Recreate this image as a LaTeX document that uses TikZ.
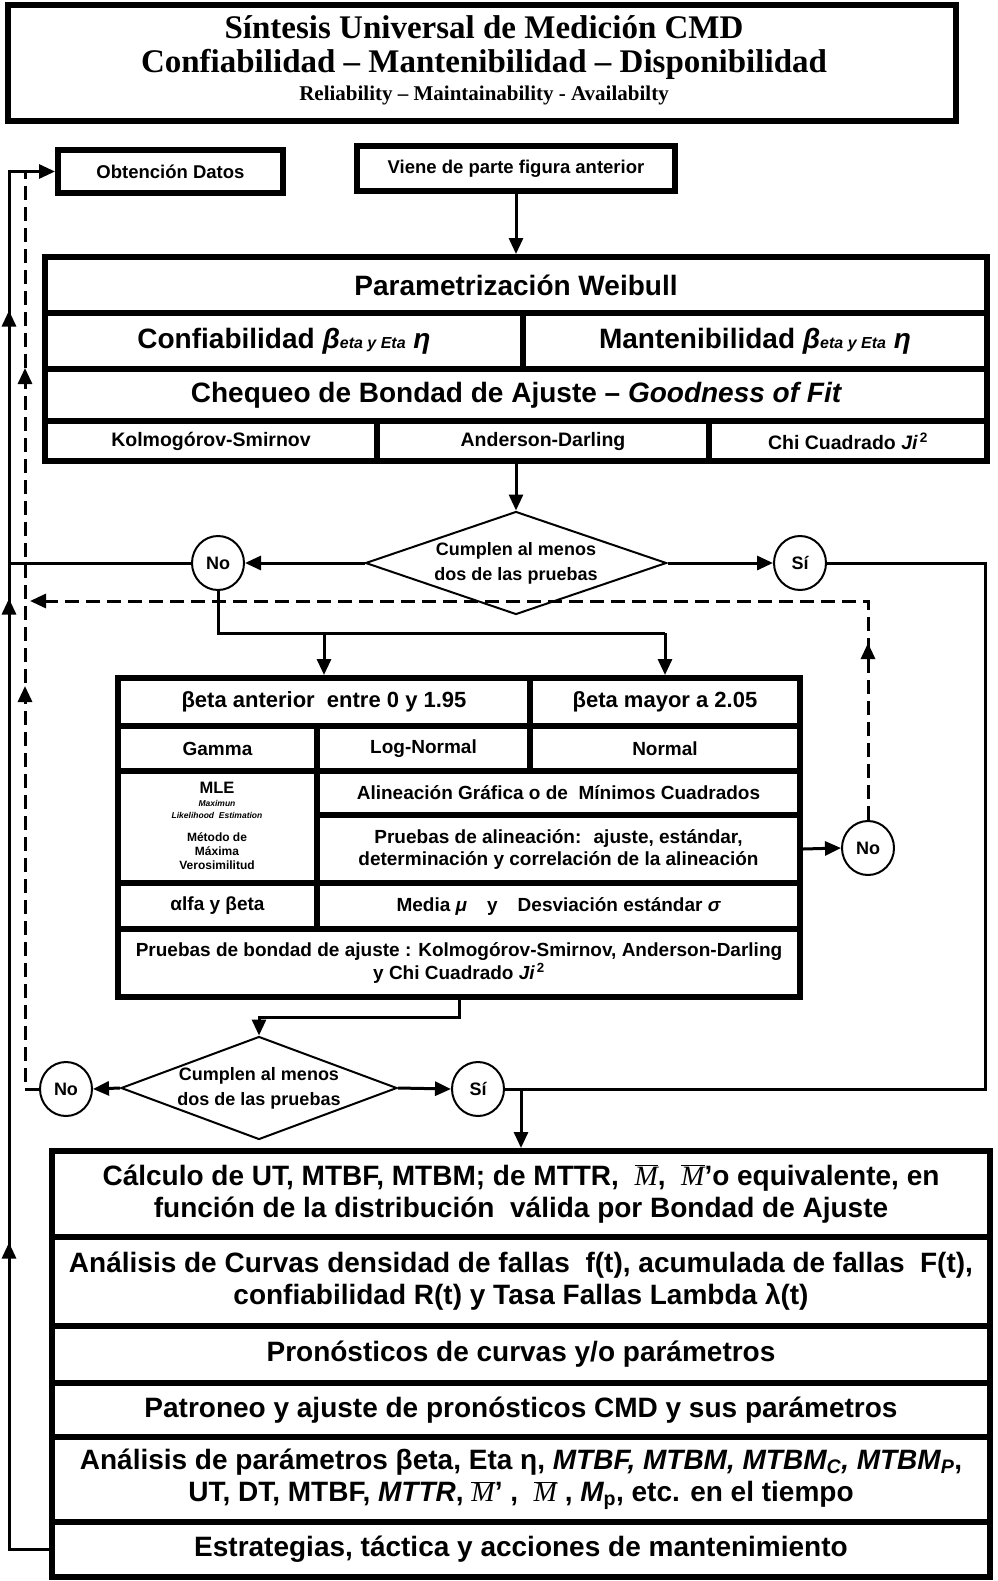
\documentclass[tikz,border=0pt]{standalone}
\usepackage{fix-cm}
\usepackage{fontspec}
\setmainfont{Liberation Sans}
\newfontfamily\titlefont{Liberation Serif}
\usetikzlibrary{arrows.meta,shapes.geometric,decorations.markings}

\begin{document}
\begin{tikzpicture}[x=1pt,y=-1pt,
  >={Triangle[length=16pt,width=14pt]},
  cell/.style={draw,line width=6pt,inner sep=0pt,align=center},
  decision/.style={diamond,draw,line width=2pt,inner sep=0pt,align=center,font=\myfontdia},
  answer/.style={ellipse,draw,line width=2pt,inner sep=0pt,minimum width=52pt,minimum height=54pt,font=\myfontcirc},
  line/.style={line width=3pt},
  flow/.style={line width=3pt,->},
  back/.style={line width=3pt,dash pattern=on 14pt off 7pt},
  midtips/.style={postaction={decorate,decoration={markings,#1}}}]
\newcommand{\myfonthead}{\fontsize{28}{32}\selectfont\bfseries}
\newcommand{\myfonttest}{\fontsize{19.5}{22}\selectfont\bfseries}
\newcommand{\myfontbeta}{\fontsize{22}{24}\selectfont\bfseries}
\newcommand{\myfontcell}{\fontsize{19}{22}\selectfont\bfseries}
\newcommand{\myfontbox}{\fontsize{18.5}{20}\selectfont\bfseries}
\newcommand{\myfontdia}{\fontsize{18}{25}\selectfont\bfseries}
\newcommand{\myfontcirc}{\fontsize{18}{20}\selectfont\bfseries}
\newcommand{\mbar}{$\overline{\hbox{\titlefont\mdseries\itshape M}}$}
\useasboundingbox (0,0) rectangle (997,1581);
%Title box
\node[cell,minimum width=948pt,minimum height=116pt] (title) at (482,63) {};
\node (titleA) at (484,27) {\titlefont\fontsize{33}{36}\selectfont\bfseries Síntesis Universal de Medición CMD};
\node (titleB) at (484,64) {\titlefont\fontsize{33}{36}\selectfont\bfseries Confiabilidad – Mantenibilidad – Disponibilidad};
\node (titleC) at (484,95) {\titlefont\fontsize{21}{24}\selectfont\bfseries Reliability – Maintainability - Availabilty};
%Start boxes
\node[cell,minimum width=225pt,minimum height=43pt,font=\myfontbox] (datos) at (170.5,171.5) {Obtención Datos};
\node[cell,minimum width=318pt,minimum height=45pt,font=\myfontbox] (viene) at (516,168.5) {Viene de parte figura anterior};
%Weibull block
\node[cell,minimum width=942pt,minimum height=56pt,font=\myfonthead] (param) at (516,285) {Parametrización Weibull};
\node[cell,minimum width=478pt,minimum height=56pt,font=\myfonthead] (conf) at (284,341) {Confiabilidad {\itshape β}{\fontsize{16}{16}\selectfont\itshape eta y Eta} {\itshape η}};
\node[cell,minimum width=464pt,minimum height=56pt,font=\myfonthead] (mant) at (755,341) {Mantenibilidad {\itshape β}{\fontsize{16}{16}\selectfont\itshape eta y Eta} {\itshape η}};
\node[cell,minimum width=942pt,minimum height=52pt,font=\myfonthead] (cheq) at (516,395) {Chequeo de Bondad de Ajuste – {\itshape Goodness of Fit}};
\node[cell,minimum width=332pt,minimum height=40pt,font=\myfonttest] (ks) at (211,441) {Kolmogórov-Smirnov};
\node[cell,minimum width=332pt,minimum height=40pt,font=\myfonttest] (ad) at (543,441) {Anderson-Darling};
\node[cell,minimum width=278pt,minimum height=40pt,font=\myfonttest] (chi) at (848,441) {Chi Cuadrado {\itshape Ji}\textsuperscript{\,2}};
%First decision
\node[decision,aspect=2.9,minimum width=301pt,minimum height=103pt] (test1) at (516,563) {Cumplen al menos\\dos de las pruebas};
\node[answer] (no1) at (218,563) {No};
\node[answer] (si1) at (800,563) {Sí};
%Distribution table
\node[cell,minimum width=412pt,minimum height=48pt,font=\myfontbeta] (b1) at (324,702) {βeta anterior \ entre 0 y 1.95};
\node[cell,minimum width=270pt,minimum height=48pt,font=\myfontbeta] (b2) at (665,702) {βeta mayor a 2.05};
\node[cell,minimum width=199pt,minimum height=45pt,font=\myfontcell] (gam) at (217.5,748.5) {Gamma};
\node[cell,minimum width=213pt,minimum height=45pt,font=\myfontcell] (logn) at (423.5,748.5) {Log-Normal};
\node[cell,minimum width=270pt,minimum height=45pt,font=\myfontcell] (norm) at (665,748.5) {Normal};
\node[cell,minimum width=199pt,minimum height=112pt] (mle) at (217.5,827) {};
\node (mleA) at (217,788) {\fontsize{16.5}{18}\selectfont\bfseries MLE};
\node (mleB) at (217,803) {\fontsize{8.5}{9}\selectfont\bfseries\itshape Maximun};
\node (mleC) at (217,815) {\fontsize{8.5}{9}\selectfont\bfseries\itshape Likelihood \ Estimation};
\node (mleD) at (217,837) {\fontsize{12}{13}\selectfont\bfseries Método de};
\node (mleE) at (217,851) {\fontsize{12}{13}\selectfont\bfseries Máxima};
\node (mleF) at (217,865) {\fontsize{12}{13}\selectfont\bfseries Verosimilitud};
\node[cell,minimum width=483pt,minimum height=44pt,font=\myfontcell] (alin) at (558.5,793) {Alineación Gráfica o de \ Mínimos Cuadrados};
\node[cell,minimum width=483pt,minimum height=68pt,font=\myfontcell] (palin) at (558.5,849) {Pruebas de alineación: \ ajuste, estándar,\\determinación y correlación de la alineación};
\node[cell,minimum width=199pt,minimum height=46pt,font=\myfontcell] (alfa) at (217.5,906) {αlfa y βeta};
\node[cell,minimum width=483pt,minimum height=46pt,font=\myfontcell] (media) at (558.5,906) {Media {\itshape μ}\hspace{20pt}y\hspace{20pt}Desviación estándar {\itshape σ}};
\node[cell,minimum width=682pt,minimum height=68pt,font=\fontsize{19}{23}\selectfont\bfseries] (bond) at (459,963) {Pruebas de bondad de ajuste : Kolmogórov-Smirnov, Anderson-Darling\\y Chi Cuadrado {\itshape Ji}\textsuperscript{\,2}};
\node[answer] (no3) at (868,848) {No};
%Second decision
\node[decision,aspect=2.68,minimum width=276pt,minimum height=103pt] (test2) at (259,1088) {Cumplen al menos\\dos de las pruebas};
\node[answer] (no2) at (66,1089) {No};
\node[answer] (si2) at (478,1089) {Sí};
%Results block
\node[cell,minimum width=938pt,minimum height=86pt,font=\myfonthead] (calc) at (521,1194) {Cálculo de UT, MTBF, MTBM; de MTTR, \ \mbar, \ \mbar'o equivalente, en\\función de la distribución \ válida por Bondad de Ajuste};
\node[cell,minimum width=938pt,minimum height=89pt,font=\myfonthead] (curv) at (521,1281.5) {Análisis de Curvas densidad de fallas \ f(t), acumulada de fallas \ F(t),\\confiabilidad R(t) y Tasa Fallas Lambda λ(t)};
\node[cell,minimum width=938pt,minimum height=57pt,font=\myfonthead] (pron) at (521,1354.5) {Pronósticos de curvas y/o parámetros};
\node[cell,minimum width=938pt,minimum height=54pt,font=\myfonthead] (patr) at (521,1410) {Patroneo y ajuste de pronósticos CMD y sus parámetros};
\node[cell,minimum width=938pt,minimum height=85pt,font=\myfonthead] (apar) at (521,1479.5) {Análisis de parámetros βeta, Eta η, {\itshape MTBF, MTBM, MTBM\textsubscript{C}, MTBM\textsubscript{P}},\\UT, DT, MTBF, {\itshape MTTR}, \mbar' , \ \mbar \ , {\itshape M}\textsubscript{p}, etc. en el tiempo};
\node[cell,minimum width=938pt,minimum height=55pt,font=\myfonthead] (estr) at (521,1549.5) {Estrategias, táctica y acciones de mantenimiento};
%Connectors
\coordinate (lftTop) at (9,171.5);
\coordinate (dashTop) at (25,171.5);
\coordinate (dashEnd) at (30,601);
\coordinate (rgt) at (985,1089);
\draw[flow] (viene.south) -- (viene.south |- param.north);
\draw[flow] (test1.north |- ks.south) -- (test1.north);
\draw[flow] (test1.west) -- (no1.east);
\draw[flow] (test1.east) -- (si1.west);
\draw[line] (no1.west) -- (no1.west -| lftTop);
\path (no1.south) ++(0,42) coordinate (split1);
\draw[line] (no1.south) |- (split1 -| b2.north);
\draw[flow] (split1 -| b1.north) -- (b1.north);
\draw[flow] (split1 -| b2.north) -- (b2.north);
\draw[line] (si1.east) -| (rgt) -- (si2.east);
\draw[flow] (palin.east) -- (no3.west);
\draw[back,->,midtips={mark=at position 177pt with {\arrow{>}}}] (no3.north) |- (dashEnd);
\draw[flow] (bond.south) -- ++(0,17) -| (test2.north);
\draw[flow] (test2.west) -- (no2.east);
\draw[flow] (test2.east) -- (si2.west);
\draw[flow] (si2.east -| calc.north) -- (calc.north);
%Return lines
\draw[back,midtips={mark=at position 417pt with {\arrow{>}},mark=at position 735pt with {\arrow{>}}}] (no2.west) -| (dashTop);
\draw[flow,midtips={mark=at position 347pt with {\arrow{>}},mark=at position 991pt with {\arrow{>}},mark=at position 1279pt with {\arrow{>}}}] (estr.west) -| (lftTop) -- (datos.west);
\end{tikzpicture}
\end{document}
